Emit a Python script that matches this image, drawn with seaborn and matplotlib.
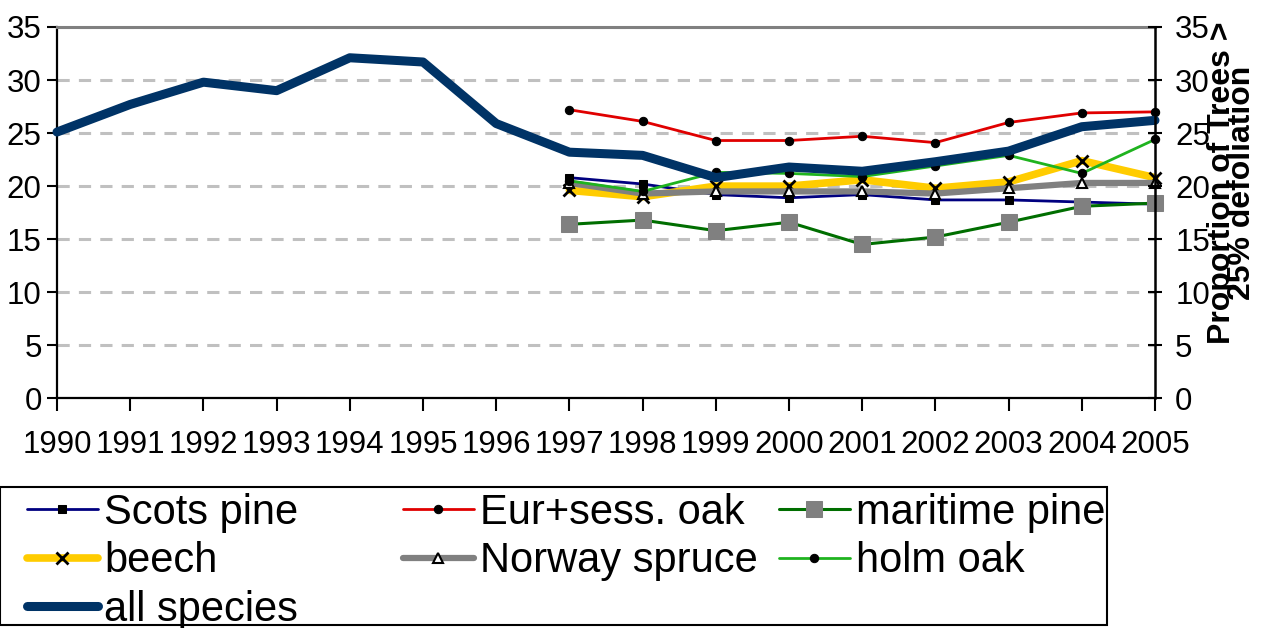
import matplotlib
matplotlib.use("Agg")
import numpy as np
import pandas as pd
import seaborn as sns
import matplotlib.pyplot as plt
from matplotlib.patches import Rectangle

# ---------------- data ----------------
years = list(range(1990, 2006))
species_years = list(range(1997, 2006))
all_species = [25.1, 27.7, 29.8, 29.0, 32.1, 31.7, 25.9, 23.2, 22.9, 20.8, 21.8, 21.4, 22.3, 23.3, 25.6, 26.2]
scots_pine = [20.8, 20.2, 19.2, 18.9, 19.2, 18.7, 18.7, 18.5, 18.3]
eur_sess_oak = [27.2, 26.1, 24.3, 24.3, 24.7, 24.1, 26.0, 26.9, 27.0]
maritime_pine = [16.4, 16.8, 15.8, 16.6, 14.5, 15.2, 16.6, 18.1, 18.4]
beech = [19.6, 19.0, 20.0, 20.0, 20.6, 19.8, 20.4, 22.4, 20.8]
norway_spruce = [20.3, 19.3, 19.5, 19.5, 19.5, 19.3, 19.8, 20.3, 20.3]
holm_oak = [20.5, 19.5, 21.3, 21.2, 20.9, 21.9, 22.9, 21.2, 24.4]
y_ticks = [0, 5, 10, 15, 20, 25, 30, 35]
right_label = "Proportion of Trees >\n25% defoliation"

series = [
    ("Scots pine", scots_pine, dict(color="#000080", lw=2.0, marker="s", markersize=6,
                                     markerfacecolor="black", markeredgecolor="black")),
    ("Eur+sess. oak", eur_sess_oak, dict(color="#E00000", lw=2.0, marker="o", markersize=6,
                                         markerfacecolor="black", markeredgecolor="black")),
    ("maritime pine", maritime_pine, dict(color="#006E00", lw=2.2, marker="s", markersize=12,
                                          markerfacecolor="#808080", markeredgecolor="#808080")),
    ("beech", beech, dict(color="#FFCC00", lw=5.5, marker="x", markersize=8, markeredgewidth=2,
                          markerfacecolor="black", markeredgecolor="black")),
    ("Norway spruce", norway_spruce, dict(color="#808080", lw=4.5, marker="^", markersize=7,
                                          markeredgewidth=1.5, markerfacecolor="white",
                                          markeredgecolor="black")),
    ("holm oak", holm_oak, dict(color="#1FB31F", lw=2.0, marker="o", markersize=6,
                                markerfacecolor="black", markeredgecolor="black")),
]

# ---------------- style ----------------
sns.set_style("white")
plt.rcParams["font.family"] = ["Liberation Sans", "DejaVu Sans"]
plt.rcParams.update({"text.color": "black", "xtick.color": "black", "ytick.color": "black",
                     "axes.labelcolor": "black"})

W, H = 1277, 628
fig = plt.figure(figsize=(W / 100, H / 100), dpi=100)
ax = fig.add_axes([57 / W, 1 - 398.3 / H, (1155 - 57) / W, (398.3 - 27) / H])

for name, vals, kw in series:
    df = pd.DataFrame({"year": species_years, "value": vals})
    sns.lineplot(data=df, x="year", y="value", ax=ax, label=name, errorbar=None,
                 clip_on=False, zorder=3, **kw)

df_all = pd.DataFrame({"year": years, "value": all_species})
sns.lineplot(data=df_all, x="year", y="value", ax=ax, label="all species", errorbar=None,
             color="#003366", lw=6.5, clip_on=False, zorder=4)

if ax.get_legend() is not None:
    ax.get_legend().remove()

ax.set_xlim(1990, 2005)
ax.set_ylim(0, 35)
ax.set_xticks(years)
ax.set_xticklabels([str(y) for y in years])
ax.set_yticks(y_ticks)
ax.set_xlabel("")
ax.set_ylabel("")
ax.yaxis.grid(True, color="#C0C0C0", linestyle=(0, (4, 3)), linewidth=2.2)
ax.xaxis.grid(False)
ax.set_axisbelow(True)

for s in ["left", "bottom"]:
    ax.spines[s].set_color("black")
    ax.spines[s].set_linewidth(1.6)
ax.spines["top"].set_color("#808080")
ax.spines["top"].set_linewidth(2.2)
ax.spines["right"].set_visible(False)

ax.tick_params(axis="y", direction="out", length=7, width=1.5, labelsize=22.5, pad=4, left=True)
ax.tick_params(axis="x", direction="out", length=9, width=1.5, labelsize=22.5, pad=14, bottom=True)

ax2 = ax.twinx()
ax2.set_ylim(0, 35)
ax2.set_yticks(y_ticks)
ax2.tick_params(axis="y", direction="inout", length=10, width=1.5, labelsize=22.5, pad=9.5, right=True)
for s in ["left", "top", "bottom"]:
    ax2.spines[s].set_visible(False)
ax2.spines["right"].set_color("black")
ax2.spines["right"].set_linewidth(1.8)
ax2.grid(False)

fig.text(1232 / W, 1 - 183 / H, right_label, rotation=90, ha="center", va="center",
         fontsize=23, fontweight="bold", linespacing=0.58)

# ---------------- legend ----------------
handles, labels = ax.get_legend_handles_labels()
hmap = dict(zip(labels, handles))
cols = [
    (["Scots pine", "beech", "all species"], 27),
    (["Eur+sess. oak", "Norway spruce"], 403),
    (["maritime pine", "holm oak"], 779),
]
for names, xpx in cols:
    fig.legend([hmap[n] for n in names], names, loc="upper left",
               bbox_to_anchor=(xpx / W, 1 - 493 / H), frameon=False, fontsize=30,
               handlelength=1.7, handletextpad=0.15, labelspacing=0.2,
               borderpad=0, borderaxespad=0)

fig.patches.append(Rectangle((0 / W, 1 - 625 / H), 1107 / W, (625 - 487) / H,
                             transform=fig.transFigure, fill=False, edgecolor="black",
                             linewidth=1.5))

fig.savefig("out.png", dpi=100)
